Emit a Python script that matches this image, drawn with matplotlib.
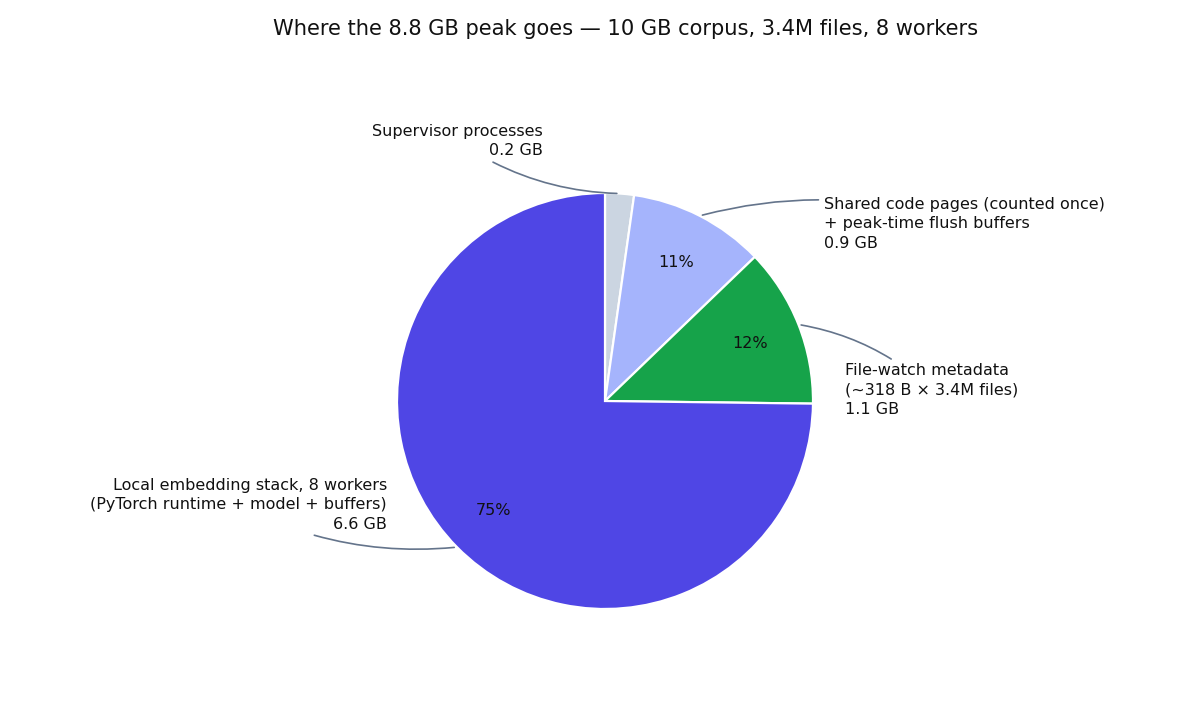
import numpy as np
import matplotlib
matplotlib.use("Agg")
import matplotlib.pyplot as plt

labels = ["Supervisor processes",
          "Shared code pages (counted once)\n+ peak-time flush buffers",
          "File-watch metadata\n(~318 B \u00d7 3.4M files)",
          "Local embedding stack, 8 workers\n(PyTorch runtime + model + buffers)"]
gb = [0.197, 0.93, 1.09, 6.58]
colors = ["#cbd5e1", "#a5b4fc", "#16a34a", "#4f46e5"]

# label anchor (data units, radius = 1) and alignment
label_pos = [(-0.298, 1.25, "right"),
             (1.053, 0.851, "left"),
             (1.154, 0.053, "left"),
             (-1.048, -0.5, "right")]

fig = plt.figure(figsize=(11.96, 7.02), dpi=100)
ax = fig.add_axes([0, 0, 1, 1])

wedges, texts, autotexts = ax.pie(
    gb, colors=colors, startangle=90, counterclock=False,
    autopct=lambda p: f"{p:.0f}%" if p >= 5 else "",
    pctdistance=0.75, textprops=dict(fontsize=11.5, color="#111111"),
    wedgeprops=dict(edgecolor="white", linewidth=1.6))

for w, lab, v, (tx, ty, ha) in zip(wedges, labels, gb, label_pos):
    mid = np.deg2rad((w.theta1 + w.theta2) / 2)
    ax.annotate(f"{lab}\n{v:.1f} GB", xy=(np.cos(mid), np.sin(mid)),
                xytext=(tx, ty), ha=ha, va="center", fontsize=11.5,
                linespacing=1.35, color="#111111",
                arrowprops=dict(arrowstyle="-", color="#64748b", lw=1.2,
                                connectionstyle="arc3,rad=0.15"))

ax.set_xlim(-605 / 208, 591 / 208)
ax.set_ylim(-301 / 208, 401 / 208)
ax.set_aspect("equal")
ax.axis("off")

fig.text(626 / 1196, 1 - 29 / 702,
         "Where the 8.8 GB peak goes \u2014 10 GB corpus, 3.4M files, 8 workers",
         ha="center", va="center", fontsize=15.1, color="#111111")

fig.savefig("out.png", dpi=100)
